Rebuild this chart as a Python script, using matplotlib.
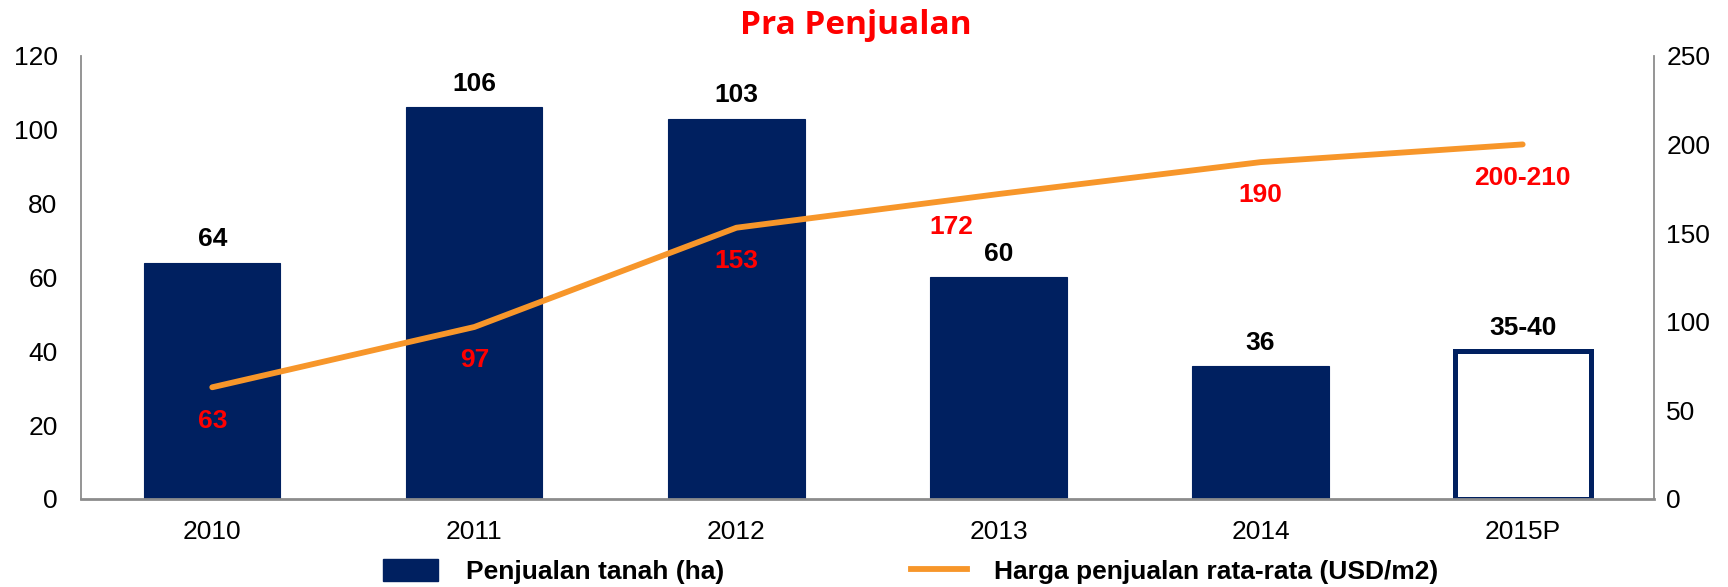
import matplotlib.pyplot as plt
import numpy as np
from matplotlib.patches import Patch
from matplotlib.lines import Line2D

plt.rcParams['font.family'] = ['Liberation Sans', 'DejaVu Sans']

# Donnees
annees = ['2010', '2011', '2012', '2013', '2014', '2015P']
penjualan_ha = [64, 106, 103, 60, 36, 40]
label_ha = ['64', '106', '103', '60', '36', '35-40']
harga_usd = [63, 97, 153, 172, 190, 200]
label_harga = ['63', '97', '153', '172', '190', '200-210']

bleu = '#002060'
orange = '#F7962A'
gris = '#8C8C8C'

fig = plt.figure(figsize=(17.28, 5.87), dpi=100)
ax = fig.add_axes([0.047, 0.150, 0.910, 0.755])
x = np.arange(len(annees))

# Barres (la derniere en contour seulement)
couleurs = [bleu] * (len(annees) - 1) + ['white']
bars = ax.bar(x, penjualan_ha, width=0.52, color=couleurs, edgecolor=bleu, linewidth=0.8, zorder=2)
bars[-1].set_linewidth(3.6)
for xi, v, lab in zip(x, penjualan_ha, label_ha):
    ax.annotate(lab, (xi, v), xytext=(0, 8), textcoords='offset points',
                ha='center', va='bottom', fontsize=19, fontweight='bold', color='black')

ax.set_xlim(-0.5, len(annees) - 0.5)
ax.set_ylim(0, 120)
ax.set_yticks(range(0, 121, 20))
ax.set_xticks(x)
ax.set_xticklabels(annees)
ax.tick_params(axis='y', length=0, pad=17, labelsize=19)
ax.tick_params(axis='x', length=0, pad=15, labelsize=19)
ax.spines['top'].set_visible(False)
for s in ['left', 'bottom', 'right']:
    ax.spines[s].set_color(gris)
ax.spines['left'].set_linewidth(1.3)
ax.spines['bottom'].set_linewidth(2.0)
ax.spines['right'].set_visible(False)

# Courbe prix moyen, axe de droite
ax2 = ax.twinx()
ax2.plot(x, harga_usd, color=orange, linewidth=4.2, solid_capstyle='round', zorder=3)
ax2.set_ylim(0, 250)
ax2.set_yticks(range(0, 251, 50))
ax2.tick_params(axis='y', length=0, pad=9, labelsize=19)
ax2.spines['top'].set_visible(False)
ax2.spines['left'].set_visible(False)
ax2.spines['bottom'].set_visible(False)
ax2.spines['right'].set_color(gris)
ax2.spines['right'].set_linewidth(1.3)
decalage = [0, 0, 0, -34, 0, 0]
for xi, v, lab, dx in zip(x, harga_usd, label_harga, decalage):
    ax2.annotate(lab, (xi, v), xytext=(dx, -24), textcoords='offset points',
                 ha='center', va='center', fontsize=19, fontweight='bold', color='red', zorder=4)

fig.suptitle('Pra Penjualan', x=0.495, y=0.985, color='red', fontsize=24,
             fontweight='bold', family=['Open Sans', 'DejaVu Sans'])

# Legende
poignees = [Patch(facecolor=bleu, edgecolor=bleu),
            Line2D([0], [0], color=orange, linewidth=4.2)]
fig.legend(poignees, ['Penjualan tanah (ha)', 'Harga penjualan rata-rata (USD/m2)'],
           loc='center', bbox_to_anchor=(0.527, 0.027), ncol=2, frameon=False,
           prop={'weight': 'bold', 'size': 19}, columnspacing=7.1, handlelength=2.1,
           handleheight=0.9, handletextpad=1.05)

fig.savefig('out.png', dpi=100)
